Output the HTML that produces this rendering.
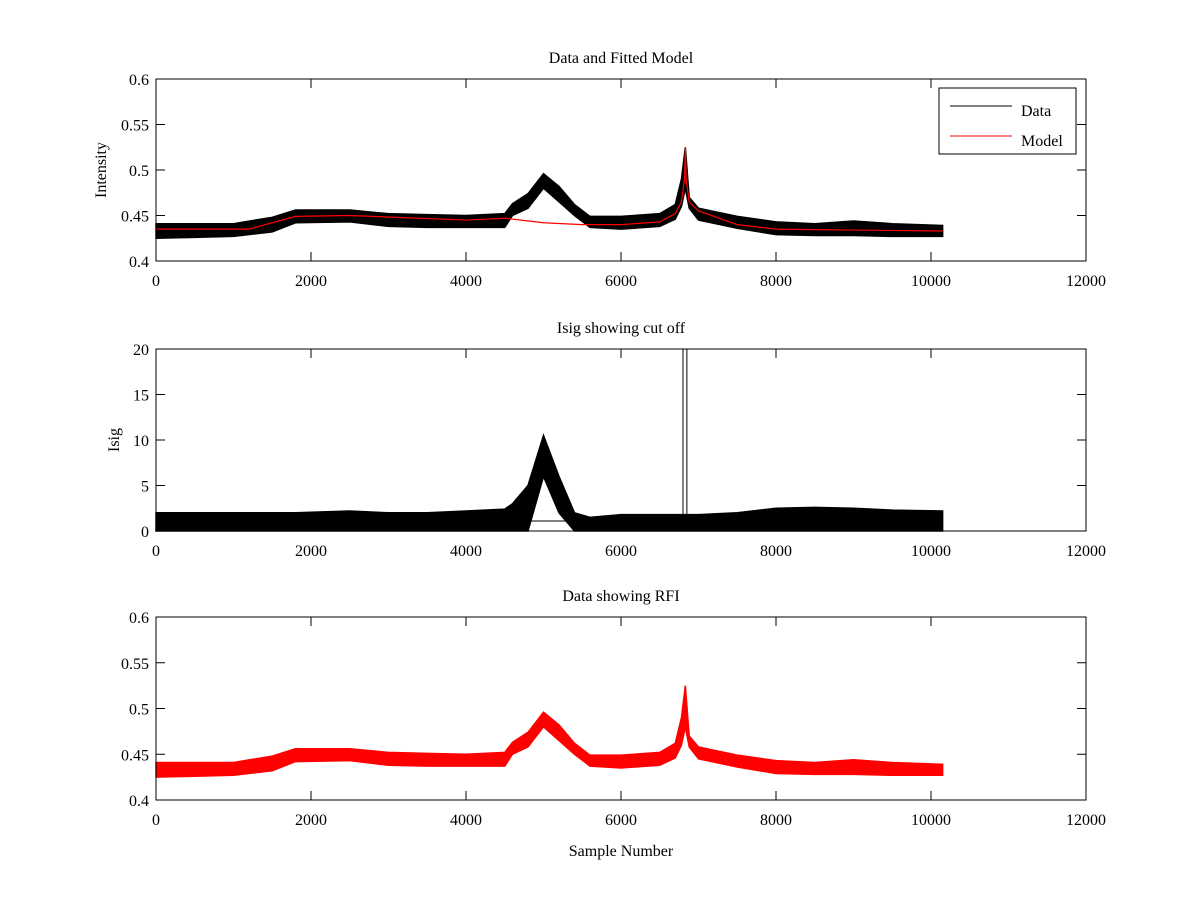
<!DOCTYPE html>
<html><head><meta charset="utf-8"><style>
body{margin:0;background:#fff}
svg text{font-family:"Liberation Serif",serif;font-size:16px;fill:#000}
</style></head><body>
<svg id="fig" width="1200" height="900"></svg>
<script>
// ---- data ----
const sampleX=[0,500,1000,1500,1800,2500,3000,3500,4000,4500,4600,4800,5000,5200,5400,5600,6000,6500,6700,6780,6830,6880,7000,7500,8000,8500,9000,9500,10150];
const dataLow=[0.425,0.426,0.427,0.432,0.442,0.443,0.438,0.437,0.437,0.437,0.45,0.458,0.48,0.465,0.45,0.437,0.435,0.438,0.446,0.46,0.48,0.458,0.445,0.436,0.429,0.428,0.428,0.427,0.427];
const dataHigh=[0.441,0.441,0.441,0.448,0.456,0.456,0.452,0.451,0.45,0.452,0.463,0.474,0.496,0.482,0.462,0.449,0.449,0.452,0.462,0.49,0.525,0.47,0.458,0.449,0.443,0.441,0.444,0.441,0.439];
const modelX=[0,1200,1800,2500,4000,4500,5000,5500,6000,6500,6700,6780,6820,6830,6840,6880,7000,7500,8000,9000,10150];
const modelY=[0.435,0.435,0.449,0.45,0.445,0.447,0.442,0.44,0.44,0.443,0.452,0.465,0.49,0.525,0.49,0.465,0.455,0.44,0.435,0.434,0.433];
const isigLow=[0,0,0,0,0,0,0,0,0,0,0,0,6,2,0,0,0,0,0,0,0,0,0,0,0,0,0,0,0];
const isigHigh=[2,2,2,2,2,2.2,2,2,2.2,2.4,3,5,10.5,6,2,1.5,1.8,1.8,1.8,1.8,1.8,1.8,1.8,2,2.5,2.6,2.5,2.3,2.2];
const xTicks=[0,2000,4000,6000,8000,10000,12000];
const yTicksA=[0.4,0.45,0.5,0.55,0.6];
const yTicksB=[0,5,10,15,20];

const NS="http://www.w3.org/2000/svg";
const svg=document.getElementById('fig');
function mk(tag,attrs,parent){const e=document.createElementNS(NS,tag);for(const k in attrs)e.setAttribute(k,attrs[k]);(parent||svg).appendChild(e);return e;}
const X0=156,X1=1086;
function sx(v){return X0+(v/12000)*(X1-X0);}
function panel(top,bot,ymin,ymax,yticks,title,ylabel,name){
  const g=mk('g',{});
  
  
  const sy=v=>bot-(v-ymin)/(ymax-ymin)*(bot-top);
  const t=mk('text',{x:(X0+X1)/2,y:top-16,'text-anchor':'middle'},g);t.textContent=title;
  
  
  if(ylabel){const yl=mk('text',{x:0,y:0,'text-anchor':'middle',transform:`translate(${ylabel[1]},${(top+bot)/2}) rotate(-90)`},g);yl.textContent=ylabel[0];
    
    }
  xTicks.forEach(v=>{const x=sx(v);mk('line',{x1:x,x2:x,y1:bot,y2:bot-9,stroke:'#000'},g);mk('line',{x1:x,x2:x,y1:top,y2:top+9,stroke:'#000'},g);
    const l=mk('text',{x:x,y:bot+25,'text-anchor':'middle'},g);l.textContent=v;
    
    });
  yticks.forEach(v=>{const y=sy(v);mk('line',{x1:X0,x2:X0+9,y1:y,y2:y,stroke:'#000'},g);mk('line',{x1:X1,x2:X1-9,y1:y,y2:y,stroke:'#000'},g);
    const l=mk('text',{x:X0-7,y:y+6,'text-anchor':'end'},g);l.textContent=v;
    
    });
  return {g,sy};
}
function band(g,sy,lo,hi,color,name){
  let d='M';sampleX.forEach((v,i)=>d+=sx(v)+','+sy(hi[i])+' L');
  for(let i=sampleX.length-1;i>=0;i--)d+=sx(sampleX[i])+','+sy(lo[i])+(i?' L':' Z');
  const p=mk('path',{d,fill:color,stroke:color,'stroke-width':1.5},g);
  
  
}
function frame(g,top,bot){mk('rect',{x:X0,y:top,width:X1-X0,height:bot-top,fill:'none',stroke:'#000'},g);}

// Panel 1
const p1=panel(79,261,0.4,0.6,yTicksA,'Data and Fitted Model',['Intensity',106],'panel-data-model');
band(p1.g,p1.sy,dataLow,dataHigh,'#000','data-series');
const mpath=mk('polyline',{points:modelX.map((v,i)=>sx(v)+','+p1.sy(modelY[i])).join(' '),fill:'none',stroke:'#f00','stroke-width':1.2},p1.g);


frame(p1.g,79,261);
const lg=mk('g',{},p1.g);


mk('rect',{x:939,y:88,width:137,height:66,fill:'#fff',stroke:'#000'},lg);
mk('line',{x1:950,x2:1012,y1:106,y2:106,stroke:'#000'},lg);
mk('line',{x1:950,x2:1012,y1:136,y2:136,stroke:'#f00'},lg);
let lt=mk('text',{x:1021,y:116},lg);lt.textContent='Data';
lt=mk('text',{x:1021,y:146},lg);lt.textContent='Model';

// Panel 2
const p2=panel(349,531,0,20,yTicksB,'Isig showing cut off',['Isig',119],'panel-isig');
band(p2.g,p2.sy,isigLow,isigHigh,'#000','isig-series');
mk('line',{x1:sx(0),x2:sx(5700),y1:p2.sy(1.1),y2:p2.sy(1.1),stroke:'#000'},p2.g);
[6800,6850].forEach(v=>mk('line',{x1:sx(v),x2:sx(v),y1:349,y2:p2.sy(1),stroke:'#000'},p2.g));
frame(p2.g,349,531);

// Panel 3
const p3=panel(617,800,0.4,0.6,yTicksA,'Data showing RFI',null,'panel-rfi');
band(p3.g,p3.sy,dataLow,dataHigh,'#f00','rfi-series');
frame(p3.g,617,800);
const xl=mk('text',{x:621,y:856,'text-anchor':'middle'});xl.textContent='Sample Number';


</script>
</body></html>
